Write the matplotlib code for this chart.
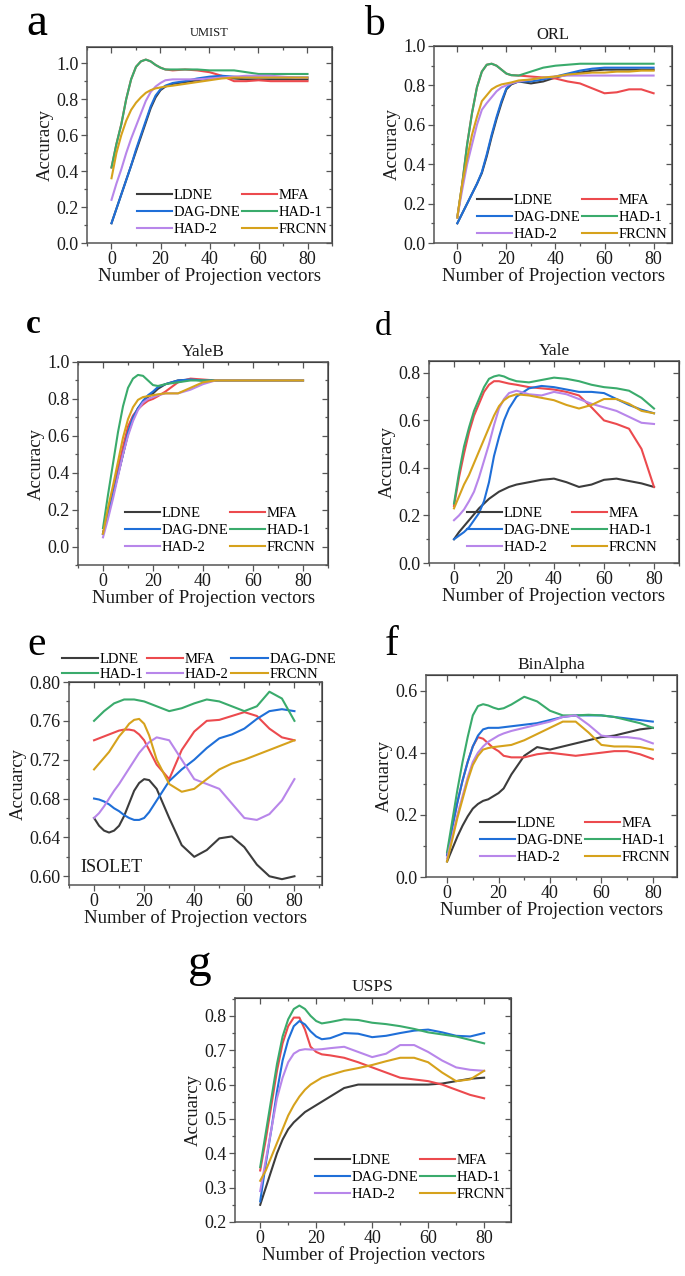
import numpy as np
import matplotlib
matplotlib.use("Agg")
import matplotlib.pyplot as plt
from matplotlib.ticker import MultipleLocator, FormatStrFormatter

plt.rcParams['font.family'] = ['Liberation Serif', 'DejaVu Serif']

W, H = 685, 1276

methods = ['LDNE', 'MFA', 'DAG-DNE', 'HAD-1', 'HAD-2', 'FRCNN']
colors = ['#3c3c3c', '#ec4a4e', '#1f6fd8', '#3aab6c', '#b886ea', '#d6a21c']

# number of projection vectors (shared by all panels)
n_vec = [0, 2, 4, 6, 8, 10, 12, 14, 16, 18, 20, 22, 25, 30, 35, 40, 45, 50, 55, 60, 65, 70, 75, 80]

# --- a: UMIST ---
umist_ldne = [0.11, 0.19, 0.27, 0.35, 0.43, 0.51, 0.59, 0.67, 0.75, 0.81, 0.85, 0.87, 0.885, 0.895, 0.905, 0.915, 0.92, 0.915, 0.91, 0.91, 0.91, 0.91, 0.91, 0.91]
umist_mfa = [0.42, 0.55, 0.66, 0.80, 0.91, 0.98, 1.01, 1.02, 1.01, 0.99, 0.975, 0.965, 0.96, 0.965, 0.96, 0.95, 0.93, 0.90, 0.90, 0.905, 0.90, 0.90, 0.90, 0.90]
umist_dag = [0.11, 0.19, 0.27, 0.35, 0.43, 0.52, 0.60, 0.68, 0.76, 0.82, 0.855, 0.875, 0.89, 0.90, 0.915, 0.925, 0.93, 0.925, 0.92, 0.92, 0.92, 0.92, 0.92, 0.92]
umist_had1 = [0.42, 0.55, 0.66, 0.80, 0.91, 0.98, 1.01, 1.02, 1.01, 0.99, 0.975, 0.965, 0.965, 0.965, 0.965, 0.96, 0.96, 0.96, 0.95, 0.94, 0.94, 0.94, 0.94, 0.94]
umist_had2 = [0.24, 0.33, 0.41, 0.50, 0.58, 0.65, 0.72, 0.79, 0.84, 0.87, 0.89, 0.905, 0.91, 0.91, 0.91, 0.915, 0.92, 0.925, 0.93, 0.93, 0.93, 0.925, 0.92, 0.92]
umist_frcnn = [0.36, 0.50, 0.60, 0.68, 0.74, 0.78, 0.81, 0.835, 0.85, 0.86, 0.865, 0.87, 0.875, 0.885, 0.895, 0.905, 0.915, 0.92, 0.92, 0.92, 0.92, 0.92, 0.92, 0.92]

# --- b: ORL ---
orl_ldne = [0.10, 0.15, 0.20, 0.25, 0.30, 0.355, 0.44, 0.54, 0.63, 0.71, 0.78, 0.805, 0.82, 0.81, 0.82, 0.84, 0.855, 0.865, 0.875, 0.88, 0.88, 0.88, 0.88, 0.88]
orl_mfa = [0.13, 0.30, 0.50, 0.66, 0.79, 0.87, 0.905, 0.91, 0.90, 0.88, 0.86, 0.852, 0.85, 0.845, 0.84, 0.835, 0.82, 0.81, 0.785, 0.76, 0.765, 0.78, 0.78, 0.76]
orl_dag = [0.10, 0.15, 0.20, 0.25, 0.30, 0.36, 0.45, 0.55, 0.64, 0.72, 0.785, 0.81, 0.82, 0.82, 0.83, 0.845, 0.86, 0.875, 0.885, 0.89, 0.89, 0.89, 0.89, 0.89]
orl_had1 = [0.13, 0.30, 0.50, 0.66, 0.79, 0.87, 0.905, 0.91, 0.90, 0.88, 0.86, 0.852, 0.85, 0.87, 0.89, 0.90, 0.905, 0.91, 0.91, 0.91, 0.91, 0.91, 0.91, 0.91]
orl_had2 = [0.13, 0.27, 0.40, 0.50, 0.60, 0.676, 0.71, 0.74, 0.77, 0.79, 0.80, 0.81, 0.82, 0.83, 0.84, 0.845, 0.85, 0.85, 0.85, 0.85, 0.85, 0.85, 0.85, 0.85]
orl_frcnn = [0.13, 0.30, 0.43, 0.55, 0.64, 0.72, 0.75, 0.78, 0.795, 0.805, 0.81, 0.815, 0.825, 0.83, 0.84, 0.845, 0.855, 0.86, 0.865, 0.865, 0.87, 0.87, 0.875, 0.875]

# --- c: YaleB ---
yaleb_ldne = [0.07, 0.17, 0.28, 0.39, 0.50, 0.61, 0.69, 0.75, 0.78, 0.81, 0.83, 0.855, 0.88, 0.90, 0.905, 0.90, 0.90, 0.90, 0.90, 0.90, 0.90, 0.90, 0.90, 0.90]
yaleb_mfa = [0.07, 0.18, 0.30, 0.42, 0.54, 0.65, 0.71, 0.745, 0.77, 0.79, 0.80, 0.815, 0.84, 0.89, 0.91, 0.905, 0.90, 0.90, 0.90, 0.90, 0.90, 0.90, 0.90, 0.90]
yaleb_dag = [0.07, 0.17, 0.28, 0.39, 0.50, 0.62, 0.70, 0.75, 0.79, 0.82, 0.84, 0.865, 0.88, 0.90, 0.905, 0.90, 0.90, 0.90, 0.90, 0.90, 0.90, 0.90, 0.90, 0.90]
yaleb_had1 = [0.10, 0.28, 0.45, 0.62, 0.76, 0.86, 0.91, 0.93, 0.925, 0.90, 0.875, 0.87, 0.88, 0.89, 0.90, 0.90, 0.90, 0.90, 0.90, 0.90, 0.90, 0.90, 0.90, 0.90]
yaleb_had2 = [0.05, 0.15, 0.26, 0.38, 0.50, 0.60, 0.68, 0.74, 0.78, 0.80, 0.81, 0.82, 0.83, 0.83, 0.85, 0.88, 0.90, 0.90, 0.90, 0.90, 0.90, 0.90, 0.90, 0.90]
yaleb_frcnn = [0.07, 0.21, 0.33, 0.46, 0.59, 0.69, 0.755, 0.795, 0.81, 0.815, 0.82, 0.825, 0.83, 0.83, 0.86, 0.89, 0.90, 0.90, 0.90, 0.90, 0.90, 0.90, 0.90, 0.90]

# --- d: Yale ---
yale_ldne = [0.10, 0.13, 0.155, 0.18, 0.205, 0.23, 0.25, 0.27, 0.285, 0.30, 0.31, 0.32, 0.33, 0.34, 0.35, 0.355, 0.34, 0.32, 0.33, 0.35, 0.355, 0.345, 0.335, 0.32]
yale_mfa = [0.24, 0.36, 0.46, 0.55, 0.62, 0.67, 0.72, 0.75, 0.765, 0.765, 0.76, 0.755, 0.75, 0.74, 0.735, 0.73, 0.72, 0.705, 0.655, 0.60, 0.585, 0.565, 0.48, 0.32]
yale_dag = [0.10, 0.115, 0.13, 0.15, 0.18, 0.21, 0.26, 0.34, 0.45, 0.53, 0.60, 0.65, 0.70, 0.735, 0.745, 0.74, 0.73, 0.72, 0.72, 0.715, 0.69, 0.665, 0.645, 0.63]
yale_had1 = [0.25, 0.38, 0.49, 0.57, 0.64, 0.69, 0.74, 0.775, 0.785, 0.79, 0.785, 0.775, 0.765, 0.76, 0.77, 0.78, 0.775, 0.765, 0.75, 0.74, 0.735, 0.725, 0.695, 0.65]
yale_had2 = [0.18, 0.20, 0.225, 0.26, 0.30, 0.36, 0.43, 0.50, 0.58, 0.65, 0.69, 0.715, 0.725, 0.71, 0.705, 0.72, 0.71, 0.69, 0.67, 0.655, 0.64, 0.615, 0.59, 0.585]
yale_frcnn = [0.23, 0.28, 0.33, 0.37, 0.42, 0.47, 0.52, 0.57, 0.62, 0.66, 0.685, 0.70, 0.71, 0.705, 0.695, 0.685, 0.665, 0.65, 0.665, 0.69, 0.69, 0.67, 0.64, 0.63]

# --- e: ISOLET ---
isolet_ldne = [0.66, 0.652, 0.647, 0.645, 0.647, 0.652, 0.662, 0.675, 0.688, 0.696, 0.70, 0.699, 0.69, 0.66, 0.632, 0.62, 0.627, 0.639, 0.641, 0.63, 0.612, 0.60, 0.597, 0.60]
isolet_mfa = [0.74, 0.742, 0.744, 0.746, 0.748, 0.75, 0.751, 0.751, 0.75, 0.746, 0.74, 0.73, 0.715, 0.70, 0.73, 0.749, 0.76, 0.761, 0.765, 0.769, 0.765, 0.752, 0.743, 0.74]
isolet_dag = [0.68, 0.679, 0.677, 0.674, 0.67, 0.667, 0.663, 0.66, 0.658, 0.658, 0.66, 0.666, 0.678, 0.698, 0.71, 0.72, 0.732, 0.742, 0.746, 0.752, 0.762, 0.77, 0.772, 0.77]
isolet_had1 = [0.76, 0.765, 0.77, 0.774, 0.778, 0.78, 0.782, 0.782, 0.782, 0.781, 0.78, 0.778, 0.775, 0.77, 0.773, 0.778, 0.782, 0.78, 0.775, 0.77, 0.775, 0.79, 0.783, 0.76]
isolet_had2 = [0.66, 0.665, 0.672, 0.68, 0.688, 0.695, 0.703, 0.711, 0.719, 0.727, 0.733, 0.738, 0.743, 0.74, 0.72, 0.70, 0.695, 0.69, 0.675, 0.66, 0.658, 0.664, 0.678, 0.70]
isolet_frcnn = [0.71, 0.716, 0.722, 0.728, 0.736, 0.744, 0.75, 0.757, 0.761, 0.762, 0.757, 0.745, 0.72, 0.695, 0.687, 0.69, 0.70, 0.71, 0.716, 0.72, 0.725, 0.73, 0.735, 0.74]

# --- f: BinAlpha ---
binalpha_ldne = [0.05, 0.09, 0.13, 0.165, 0.195, 0.22, 0.235, 0.245, 0.25, 0.26, 0.27, 0.285, 0.33, 0.39, 0.418, 0.41, 0.42, 0.43, 0.44, 0.45, 0.455, 0.465, 0.475, 0.48]
binalpha_mfa = [0.07, 0.16, 0.24, 0.31, 0.37, 0.42, 0.45, 0.445, 0.43, 0.415, 0.405, 0.39, 0.385, 0.385, 0.395, 0.40, 0.395, 0.39, 0.395, 0.40, 0.405, 0.405, 0.395, 0.38]
binalpha_dag = [0.07, 0.16, 0.24, 0.31, 0.37, 0.42, 0.455, 0.475, 0.48, 0.48, 0.48, 0.482, 0.485, 0.49, 0.495, 0.505, 0.515, 0.52, 0.52, 0.52, 0.515, 0.51, 0.505, 0.50]
binalpha_had1 = [0.08, 0.18, 0.28, 0.37, 0.45, 0.52, 0.55, 0.556, 0.552, 0.545, 0.54, 0.543, 0.555, 0.58, 0.565, 0.535, 0.52, 0.52, 0.522, 0.52, 0.515, 0.505, 0.495, 0.48]
binalpha_had2 = [0.06, 0.13, 0.20, 0.26, 0.32, 0.37, 0.40, 0.42, 0.435, 0.445, 0.455, 0.462, 0.47, 0.48, 0.49, 0.50, 0.515, 0.52, 0.49, 0.455, 0.45, 0.45, 0.445, 0.43]
binalpha_frcnn = [0.05, 0.12, 0.19, 0.25, 0.31, 0.36, 0.39, 0.41, 0.415, 0.418, 0.42, 0.422, 0.425, 0.44, 0.46, 0.48, 0.50, 0.50, 0.465, 0.425, 0.42, 0.42, 0.418, 0.41]

# --- g: USPS ---
usps_ldne = [0.25, 0.30, 0.35, 0.40, 0.44, 0.47, 0.49, 0.505, 0.52, 0.53, 0.54, 0.55, 0.565, 0.59, 0.60, 0.60, 0.60, 0.60, 0.60, 0.60, 0.603, 0.61, 0.617, 0.62]
usps_mfa = [0.35, 0.44, 0.54, 0.64, 0.72, 0.77, 0.795, 0.795, 0.76, 0.71, 0.695, 0.688, 0.685, 0.678, 0.665, 0.65, 0.635, 0.62, 0.615, 0.61, 0.60, 0.585, 0.57, 0.56]
usps_dag = [0.26, 0.37, 0.47, 0.58, 0.67, 0.73, 0.77, 0.785, 0.775, 0.755, 0.74, 0.732, 0.735, 0.75, 0.748, 0.738, 0.742, 0.75, 0.757, 0.76, 0.752, 0.742, 0.74, 0.75]
usps_had1 = [0.36, 0.46, 0.56, 0.66, 0.74, 0.79, 0.82, 0.83, 0.82, 0.80, 0.785, 0.778, 0.782, 0.79, 0.788, 0.78, 0.776, 0.77, 0.762, 0.752, 0.746, 0.74, 0.73, 0.72]
usps_had2 = [0.29, 0.38, 0.47, 0.56, 0.62, 0.665, 0.69, 0.70, 0.703, 0.702, 0.702, 0.703, 0.706, 0.71, 0.695, 0.68, 0.69, 0.715, 0.715, 0.695, 0.67, 0.65, 0.643, 0.64]
usps_frcnn = [0.32, 0.35, 0.39, 0.43, 0.47, 0.51, 0.54, 0.565, 0.585, 0.60, 0.61, 0.62, 0.628, 0.64, 0.648, 0.657, 0.668, 0.678, 0.678, 0.665, 0.635, 0.61, 0.615, 0.64]


def box(l, t, r, b):
    # pixel box -> figure fraction rect
    return [l / W, 1 - b / H, (r - l) / W, (b - t) / H]


fig = plt.figure(figsize=(W / 100, H / 100), dpi=100)

TICK_FS = 13
LAB_FS = 13.5
LEG_FS = 10.5
SPINE = '#555555'


def make_panel(rect, series, xlim, ylim, ymaj, yfmt, ylabel, title=None,
               title_fs=12, title_pad=5, leg_anchor=None, ylabelpad=2):
    ax = fig.add_axes(box(*rect))
    lines = []
    for vals, name, c in zip(series, methods, colors):
        ln, = ax.plot(n_vec, vals, color=c, lw=1.5, label=name)
        lines.append(ln)
    ax.set_xlim(*xlim)
    ax.set_ylim(*ylim)
    ax.xaxis.set_major_locator(MultipleLocator(20))
    ax.xaxis.set_minor_locator(MultipleLocator(10))
    ax.yaxis.set_major_locator(MultipleLocator(ymaj))
    ax.yaxis.set_minor_locator(MultipleLocator(ymaj / 2))
    ax.yaxis.set_major_formatter(FormatStrFormatter(yfmt))
    ax.tick_params(which='both', direction='out', colors=SPINE, labelcolor='#1a1a1a',
                   labelsize=TICK_FS, top=False, right=False, width=0.9)
    ax.tick_params(which='major', length=4, pad=2)
    ax.tick_params(which='minor', length=2.5)
    for s in ax.spines.values():
        s.set_color(SPINE)
        s.set_linewidth(1.1)
    # inward ticks on top and right, like the original software
    top = ax.secondary_xaxis('top')
    top.xaxis.set_major_locator(MultipleLocator(20))
    top.xaxis.set_minor_locator(MultipleLocator(10))
    top.tick_params(which='both', direction='in', colors=SPINE, labeltop=False, width=0.9)
    top.tick_params(which='major', length=4)
    top.tick_params(which='minor', length=2.5)
    right = ax.secondary_yaxis('right')
    right.yaxis.set_major_locator(MultipleLocator(ymaj))
    right.yaxis.set_minor_locator(MultipleLocator(ymaj / 2))
    right.tick_params(which='both', direction='in', colors=SPINE, labelright=False, width=0.9)
    right.tick_params(which='major', length=4)
    right.tick_params(which='minor', length=2.5)
    ax.set_xlabel('Number of Projection vectors', fontsize=LAB_FS, labelpad=-1, color='#1a1a1a')
    ax.set_ylabel(ylabel, fontsize=LAB_FS, labelpad=ylabelpad, color='#1a1a1a')
    if title:
        ax.set_title(title, fontsize=title_fs, pad=title_pad, color='#1a1a1a')
    if leg_anchor is not None:
        order = [0, 2, 4, 1, 3, 5]
        ax.legend([lines[i] for i in order], [methods[i] for i in order], ncol=2,
                  loc='lower right', bbox_to_anchor=(leg_anchor[0] / W, 1 - leg_anchor[1] / H),
                  bbox_transform=fig.transFigure, frameon=False, fontsize=LEG_FS,
                  handlelength=2.4, handletextpad=0.1, columnspacing=0.1,
                  labelspacing=0.25, borderpad=0, borderaxespad=0)
    return ax, lines


ax_a, _ = make_panel((87, 47, 332, 243),
                     [umist_ldne, umist_mfa, umist_dag, umist_had1, umist_had2, umist_frcnn],
                     (-10, 90), (0, 1.09), 0.2, '%.1f', 'Accuracy', 'UMIST', 9, 8, (327, 236))
ax_b, _ = make_panel((434, 46, 672, 243),
                     [orl_ldne, orl_mfa, orl_dag, orl_had1, orl_had2, orl_frcnn],
                     (-9.5, 87.5), (0, 1.0), 0.2, '%.1f', 'Accuracy', 'ORL', 12, 5, (667, 241))
ax_c, _ = make_panel((78, 362, 328, 565),
                     [yaleb_ldne, yaleb_mfa, yaleb_dag, yaleb_had1, yaleb_had2, yaleb_frcnn],
                     (-10, 90), (-0.1, 1.0), 0.2, '%.1f', 'Accuracy', 'YaleB', 12.5, 4, (315, 554))
ax_d, _ = make_panel((429, 361, 679, 563),
                     [yale_ldne, yale_mfa, yale_dag, yale_had1, yale_had2, yale_frcnn],
                     (-10, 90), (0, 0.85), 0.2, '%.1f', 'Accuracy', 'Yale', 12.5, 4, (657, 554))
ax_e, lines_e = make_panel((69, 682, 322, 885),
                           [isolet_ldne, isolet_mfa, isolet_dag, isolet_had1, isolet_had2, isolet_frcnn],
                           (-10, 91), (0.591, 0.80), 0.04, '%.2f', 'Accuarcy')
ax_f, _ = make_panel((426, 675, 677, 877),
                     [binalpha_ldne, binalpha_mfa, binalpha_dag, binalpha_had1, binalpha_had2, binalpha_frcnn],
                     (-8.2, 89.4), (0, 0.65), 0.2, '%.1f', 'Accuarcy', 'BinAlpha', 12.5, 4, (670, 864))
ax_g, _ = make_panel((235, 998, 511, 1222),
                     [usps_ldne, usps_mfa, usps_dag, usps_had1, usps_had2, usps_frcnn],
                     (-9, 89.6), (0.2, 0.852), 0.1, '%.1f', 'Accuarcy', 'USPS', 12.5, 5, (505, 1201))

# ISOLET: legend above the axes, name inside
order_e = [0, 3, 1, 4, 2, 5]
ax_e.legend([lines_e[i] for i in order_e], [methods[i] for i in order_e], ncol=3,
            loc='lower left', bbox_to_anchor=(62 / W, 1 - 681 / H),
            bbox_transform=fig.transFigure, frameon=False, fontsize=LEG_FS,
            handlelength=2.5, handletextpad=0.1, columnspacing=0.2,
            labelspacing=0.15, borderpad=0, borderaxespad=0)
ax_e.text(0.045, 0.085, 'ISOLET', transform=ax_e.transAxes, fontsize=13,
          va='center', ha='left', color='#1a1a1a')

# panel letters
for letter, (px, py, fs, wt) in {'a': (26, 35, 34, 'normal'), 'b': (364, 35, 30, 'normal'),
                                 'c': (26, 333, 24, 'bold'), 'd': (375, 335, 24, 'normal'),
                                 'e': (27, 655, 30, 'normal'), 'f': (385, 655, 30, 'normal'),
                                 'g': (188, 976, 34, 'normal')}.items():
    fig.text(px / W, 1 - py / H, letter, fontsize=fs, fontweight=wt, va='baseline', ha='left')

fig.savefig('out.png', dpi=100)
